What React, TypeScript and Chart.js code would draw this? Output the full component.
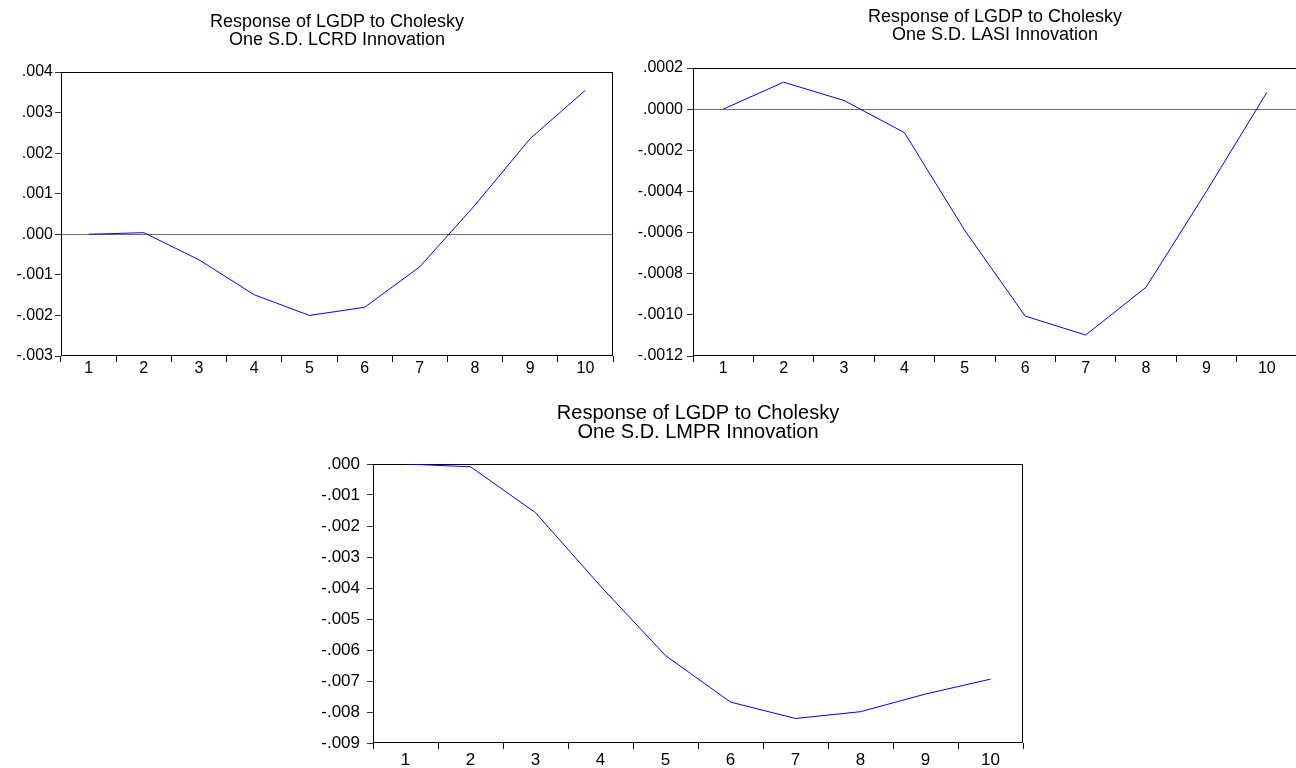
import React, { useEffect, useRef } from 'react';
import { Chart, registerables } from 'chart.js';

Chart.register(...registerables);

// ---------- data ----------
const periods = ['1', '2', '3', '4', '5', '6', '7', '8', '9', '10'];

const lcrdResponse = [0.0, 0.00004, -0.00063, -0.00149, -0.002, -0.0018, -0.0008, 0.00072, 0.00236, 0.00355];
const lasiResponse = [0.0, 0.000131, 0.000042, -0.000114, -0.00059, -0.001006, -0.001098, -0.000866, -0.0004, 0.000081];
const lmprResponse = [0.0, -0.00009, -0.00157, -0.00394, -0.00618, -0.00768, -0.00821, -0.00799, -0.00742, -0.00694];

const lcrdTicks = [-0.003, -0.002, -0.001, 0, 0.001, 0.002, 0.003, 0.004];
const lasiTicks = [-0.0012, -0.001, -0.0008, -0.0006, -0.0004, -0.0002, 0, 0.0002];
const lmprTicks = [-0.009, -0.008, -0.007, -0.006, -0.005, -0.004, -0.003, -0.002, -0.001, 0];

const lcrdTitle = ['Response of LGDP to Cholesky', 'One S.D. LCRD Innovation'];
const lasiTitle = ['Response of LGDP to Cholesky', 'One S.D. LASI Innovation'];
const lmprTitle = ['Response of LGDP to Cholesky', 'One S.D. LMPR Innovation'];

// ---------- helpers ----------
const FONT = '"Liberation Sans", Arial, Helvetica, sans-serif';

function fmt(v: number, d: number): string {
  const s = Math.abs(v).toFixed(d).replace(/^0/, '');
  return (v < -1e-12 ? '-' : '') + s;
}

const titlePlugin = {
  id: 'panelTitle',
  afterDraw(chart: any, _args: any, opts: any) {
    const { ctx, chartArea } = chart;
    ctx.save();
    ctx.font = `${opts.size}px ${FONT}`;
    ctx.fillStyle = '#000';
    ctx.textAlign = 'center';
    ctx.textBaseline = 'middle';
    const cx = (chartArea.left + chartArea.right) / 2;
    (opts.lines as string[]).forEach((line, i) => ctx.fillText(line, cx, opts.ys[i]));
    ctx.restore();
  },
};

const framePlugin = {
  id: 'frame',
  beforeDatasetsDraw(chart: any) {
    const { ctx, chartArea } = chart;
    ctx.save();
    ctx.strokeStyle = '#000';
    ctx.lineWidth = 1;
    const l = Math.round(chartArea.left) + 0.5;
    const t = Math.round(chartArea.top) + 0.5;
    const r = Math.round(chartArea.right) - 0.5;
    const b = Math.round(chartArea.bottom) - 0.5;
    ctx.strokeRect(l, t, r - l, b - t);
    ctx.restore();
  },
};

type Panel = {
  left: number; top: number; width: number; height: number;
  areaLeft: number; areaTop: number; areaRight: number; areaBottom: number;
  titleYs: number[]; title: string[]; titleSize: number;
  values: number[]; ticks: number[]; decimals: number;
  yPad: number; xPad: number; yFont: number; xFont: number;
};

const panels: Panel[] = [
  {
    left: 0, top: 0, width: 648, height: 390,
    areaLeft: 61, areaTop: 72, areaRight: 613, areaBottom: 356,
    titleYs: [22, 40], title: lcrdTitle, titleSize: 18,
    values: lcrdResponse, ticks: lcrdTicks, decimals: 3, yPad: 2, xPad: -1, yFont: 16, xFont: 16,
  },
  {
    left: 620, top: 0, width: 680, height: 390,
    areaLeft: 73, areaTop: 68, areaRight: 677, areaBottom: 356,
    titleYs: [17, 35], title: lasiTitle, titleSize: 18,
    values: lasiResponse, ticks: lasiTicks, decimals: 4, yPad: 4, xPad: -1, yFont: 16, xFont: 16,
  },
  {
    left: 300, top: 390, width: 750, height: 378,
    areaLeft: 73, areaTop: 74, areaRight: 723, areaBottom: 353,
    titleYs: [23, 42], title: lmprTitle, titleSize: 20,
    values: lmprResponse, ticks: lmprTicks, decimals: 3, yPad: 7, xPad: 3, yFont: 17, xFont: 17,
  },
];

function PanelChart({ p }: { p: Panel }) {
  const ref = useRef<HTMLCanvasElement | null>(null);
  useEffect(() => {
    if (!ref.current) return;
    const tickVals = p.ticks;
    const chart = new Chart(ref.current, {
      type: 'line',
      data: {
        labels: periods,
        datasets: [
          {
            data: p.values,
            borderColor: '#0000FF',
            borderWidth: 1,
            pointRadius: 0,
            tension: 0,
            fill: false,
          },
        ],
      },
      options: {
        responsive: false,
        animation: false,
        devicePixelRatio: 1,
        layout: {
          padding: { left: 0, top: p.areaTop, right: p.width - p.areaRight, bottom: 0 },
        },
        plugins: {
          legend: { display: false },
          tooltip: { enabled: false },
          title: { display: false },
          panelTitle: { lines: p.title, ys: p.titleYs, size: p.titleSize },
        } as any,
        scales: {
          x: {
            type: 'category',
            offset: true,
            border: { display: false },
            grid: {
              offset: true,
              drawOnChartArea: false,
              drawTicks: true,
              tickLength: 6,
              tickColor: '#000',
              color: '#000',
            },
            ticks: {
              color: '#000',
              font: { family: FONT, size: p.xFont, lineHeight: 1 },
              padding: p.xPad,
              maxRotation: 0,
              autoSkip: false,
            },
            afterFit: (scale: any) => {
              scale.height = p.height - p.areaBottom;
            },
          },
          y: {
            min: tickVals[0],
            max: tickVals[tickVals.length - 1],
            border: { display: false },
            grid: {
              drawOnChartArea: true,
              drawTicks: true,
              tickLength: 6,
              tickColor: '#333',
              color: (ctx: any) =>
                ctx.tick && Math.abs(ctx.tick.value) < 1e-12 ? '#6e6e6e' : 'rgba(0,0,0,0)',
            },
            afterBuildTicks: (scale: any) => {
              scale.ticks = tickVals.map((v) => ({ value: v }));
            },
            ticks: {
              color: '#000',
              font: { family: FONT, size: p.yFont },
              padding: p.yPad,
              callback: (v: any) => fmt(Number(v), p.decimals),
            },
            afterFit: (scale: any) => {
              scale.width = p.areaLeft;
            },
          },
        },
      },
      plugins: [framePlugin, titlePlugin],
    } as any);
    return () => chart.destroy();
  }, [p]);
  return (
    <canvas
      ref={ref}
      width={p.width}
      height={p.height}
      style={{
        position: 'absolute',
        left: p.left,
        top: p.top,
        width: p.width,
        height: p.height,
        display: 'block',
      }}
    />
  );
}

export default function App() {
  return (
    <div
      style={{
        position: 'absolute',
        left: 0,
        top: 0,
        width: 1296,
        height: 768,
        overflow: 'hidden',
        background: '#fff',
      }}
    >
      {panels.map((p, i) => (
        <PanelChart key={i} p={p} />
      ))}
    </div>
  );
}
